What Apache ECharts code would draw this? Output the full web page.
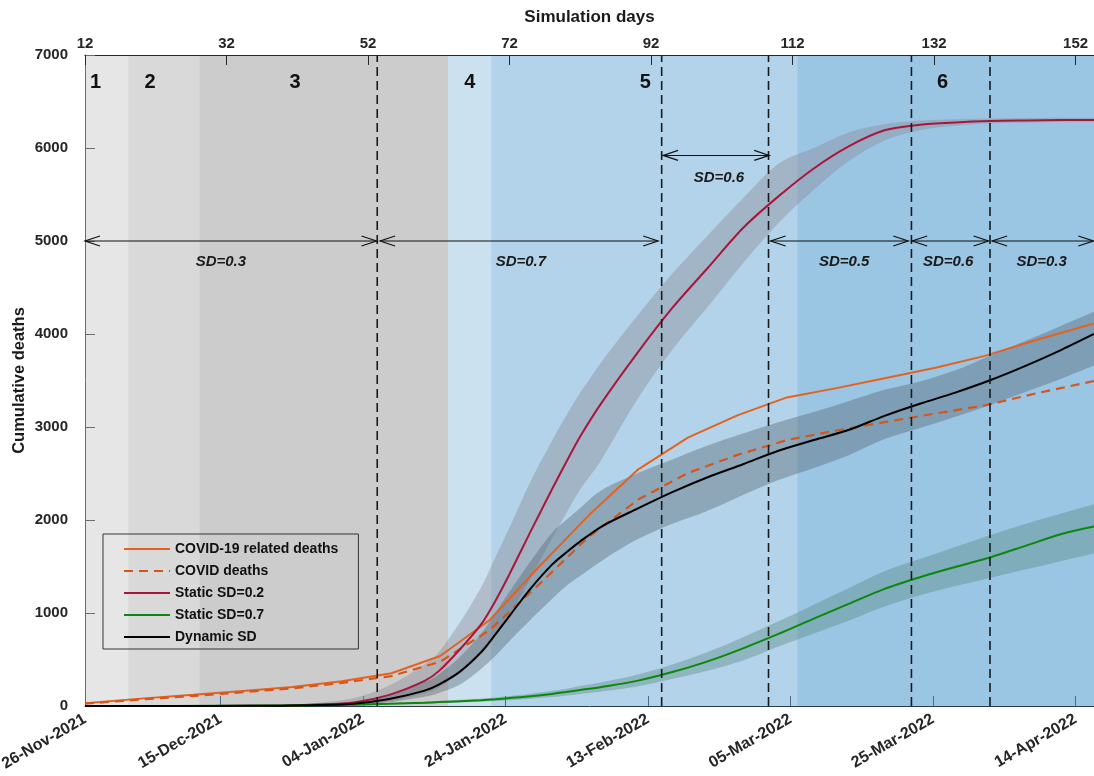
<!DOCTYPE html>
<html><head><meta charset="utf-8">
<script src="https://cdn.jsdelivr.net/npm/echarts@6/dist/echarts.min.js"></script>
<style>html,body{margin:0;padding:0;background:#fff}#c{width:1094px;height:776px}</style>
</head><body><div id="c"></div><script>
// ---------------- data ----------------
const simTicks = [12, 32, 52, 72, 92, 112, 132, 152];
// calendar axis: days elapsed since 26-Nov-2021
const dateTickOffsets = [0, 19, 39, 59, 79, 99, 119, 139];
const dateLabels = ['26-Nov-2021', '15-Dec-2021', '04-Jan-2022', '24-Jan-2022', '13-Feb-2022', '05-Mar-2022', '25-Mar-2022', '14-Apr-2022'];

const phaseStart = [12, 18.1, 28.2, 63.3, 69.4, 112.7];
const phaseEnd   = [18.1, 28.2, 63.3, 69.4, 112.7, 154.6];
const phaseNames = ['1', '2', '3', '4', '5', '6'];
const phaseLabelDay = [13.5, 21.2, 41.7, 66.4, 91.2, 133.2];
const phaseLabelLevel = [6700, 6700, 6700, 6700, 6700, 6700];

const changeDays = [53.3, 93.5, 108.6, 128.8, 139.9];

const sdNames     = ['SD=0.3', 'SD=0.7', 'SD=0.6', 'SD=0.5', 'SD=0.6', 'SD=0.3'];
const arrowFrom   = [12.0, 53.7, 93.7, 108.9, 128.9, 140.2];
const arrowTo     = [53.2, 93.0, 108.7, 128.35, 139.7, 154.5];
const arrowLevel  = [5000, 5000, 5920, 5000, 5000, 5000];
const sdLabelDay  = [31.2, 73.6, 101.6, 119.3, 134.0, 147.2];
const sdLabelLevel= [4780, 4780, 5680, 4780, 4780, 4780];

// weekly reported data
const obsDays       = [12, 20.3, 27.3, 34.3, 41.3, 48.3, 55.3, 62.2, 69.2, 76.2, 83.2, 90.2, 97.2, 104.2, 111.2, 118.2, 125.2, 132.2, 139.2, 146.2, 154.6];
const relatedDeaths = [30, 82, 120, 162, 205, 265, 352, 538, 925, 1500, 2050, 2545, 2885, 3125, 3318, 3418, 3528, 3638, 3765, 3930, 4112];
const covidDeaths   = [25, 72, 108, 148, 190, 248, 322, 476, 817, 1310, 1820, 2220, 2505, 2700, 2860, 2962, 3055, 3145, 3232, 3358, 3495];

// simulations
const simDays   = [12, 20, 30, 40, 45, 50, 55, 60, 62, 65, 68, 70, 72, 75, 78, 80, 82, 85, 90, 95, 100, 105, 110, 115, 120, 125, 130, 135, 140, 145, 150, 154.6];
const static02  = [0, 0, 1, 6, 15, 38, 120, 270, 375, 610, 880, 1130, 1420, 1880, 2330, 2620, 2900, 3260, 3790, 4280, 4710, 5140, 5480, 5780, 6020, 6190, 6250, 6275, 6290, 6296, 6300, 6302];
const static02Lo= [0, 0, 0, 2, 5, 15, 50, 140, 200, 360, 560, 750, 970, 1380, 1800, 2070, 2330, 2650, 3290, 3830, 4290, 4760, 5190, 5550, 5860, 6080, 6190, 6240, 6265, 6275, 6280, 6282];
const static02Hi= [0, 0, 5, 15, 35, 85, 220, 450, 580, 900, 1280, 1600, 1920, 2420, 2850, 3120, 3370, 3700, 4190, 4650, 5060, 5460, 5830, 6000, 6170, 6255, 6295, 6310, 6318, 6322, 6325, 6326];

const static07  = [0, 0, 2, 5, 8, 14, 24, 36, 42, 52, 62, 72, 85, 105, 130, 150, 172, 205, 270, 365, 480, 620, 775, 940, 1100, 1260, 1385, 1495, 1600, 1725, 1850, 1930];
const static07Lo= [0, 0, 1, 3, 5, 9, 16, 26, 30, 38, 46, 53, 62, 78, 96, 110, 128, 155, 210, 290, 380, 490, 640, 780, 920, 1070, 1190, 1290, 1380, 1470, 1560, 1640];
const static07Hi= [0, 0, 3, 8, 12, 20, 32, 48, 55, 67, 80, 92, 108, 133, 163, 185, 215, 255, 335, 445, 580, 740, 910, 1090, 1270, 1450, 1580, 1710, 1840, 1960, 2070, 2170];

const dynamic   = [0, 0, 1, 4, 10, 25, 75, 165, 230, 370, 580, 770, 970, 1265, 1520, 1650, 1770, 1930, 2120, 2300, 2460, 2600, 2745, 2860, 2970, 3120, 3250, 3370, 3505, 3660, 3830, 4000];
const dynamicLo = [0, 0, 0, 1, 3, 12, 40, 100, 140, 230, 400, 540, 700, 930, 1150, 1290, 1400, 1560, 1790, 1960, 2100, 2270, 2430, 2560, 2700, 2870, 2990, 3110, 3240, 3380, 3520, 3660];
const dynamicHi = [0, 0, 3, 12, 28, 45, 120, 260, 340, 530, 780, 1000, 1230, 1560, 1860, 2000, 2130, 2320, 2500, 2650, 2800, 2930, 3050, 3160, 3280, 3400, 3490, 3610, 3770, 3930, 4090, 4240];

// ---------------- styling ----------------
const FONT = "'Liberation Sans', Arial, Helvetica, sans-serif";
const TXT = '#262626';
const phaseColors = ['#e6e6e6', '#d9d9d9', '#cccccc', '#cce1f0', '#b2d3e9', '#9ac5e3'];
const X_MIN = 12, X_MAX = 154.6, Y_MIN = 0, Y_MAX = 7000;
const D_MIN = 0, D_MAX = 141.6;

const pairs = (xs, ys) => xs.map((x, i) => [x, ys[i]]);

// Catmull-Rom -> cubic bezier segments (after the first point)
function smoothSegs(pts) {
  let d = '';
  const t = 1 / 6;
  for (let i = 0; i < pts.length - 1; i++) {
    const p0 = pts[i - 1] || pts[i], p1 = pts[i], p2 = pts[i + 1], p3 = pts[i + 2] || p2;
    const c1x = p1[0] + (p2[0] - p0[0]) * t, c1y = p1[1] + (p2[1] - p0[1]) * t;
    const c2x = p2[0] - (p3[0] - p1[0]) * t, c2y = p2[1] - (p3[1] - p1[1]) * t;
    d += ' C' + c1x.toFixed(2) + ',' + c1y.toFixed(2) + ' ' + c2x.toFixed(2) + ',' + c2y.toFixed(2) + ' ' + p2[0].toFixed(2) + ',' + p2[1].toFixed(2);
  }
  return d;
}

function bandSeries(id, lo, hi, color) {
  return {
    type: 'custom', name: id, silent: true, z: 1, clip: true, xAxisIndex: 0,
    data: [[simDays[0], lo[0]]],
    renderItem: (params, api) => {
      const up = simDays.map((d, i) => api.coord([d, hi[i]]));
      const dn = simDays.map((d, i) => api.coord([d, lo[i]])).reverse();
      const path = 'M' + up[0][0] + ',' + up[0][1] + smoothSegs(up) +
                   ' L' + dn[0][0] + ',' + dn[0][1] + smoothSegs(dn) + ' Z';
      return { type: 'path', shape: { pathData: path }, style: { fill: color, stroke: null } };
    }
  };
}

const chart = echarts.init(document.getElementById('c'), null, { renderer: 'canvas' });

const option = {
  animation: false,
  backgroundColor: '#ffffff',
  grid: { left: 85, right: 0, top: 55, bottom: 70, containLabel: false, outerBoundsMode: 'none' },
  xAxis: [
    { type: 'value', position: 'top', min: X_MIN, max: X_MAX,
      name: 'Simulation days', nameLocation: 'middle', nameGap: 29, nameMoveOverlap: false,
      nameTextStyle: { color: '#1a1a1a', fontFamily: FONT, fontWeight: 'bold', fontSize: 17 },
      axisLine: { show: true, onZero: false, lineStyle: { color: '#262626', width: 1.2 } },
      axisTick: { show: true, inside: true, length: 10, customValues: simTicks, lineStyle: { color: '#262626' } },
      axisLabel: { show: true, customValues: simTicks, margin: 4, color: TXT,
        fontFamily: FONT, fontWeight: 'bold', fontSize: 15, formatter: v => String(v) },
      splitLine: { show: false } },
    { type: 'value', position: 'bottom', min: D_MIN, max: D_MAX,
      axisLine: { show: true, onZero: false, lineStyle: { color: '#2a3b4c', width: 1 } },
      axisTick: { show: true, inside: true, length: 10, customValues: dateTickOffsets, lineStyle: { color: '#4a6a85' } },
      axisLabel: { show: true, customValues: dateTickOffsets, rotate: 30, margin: 12, color: TXT,
        fontFamily: FONT, fontWeight: 'bold', fontSize: 16,
        formatter: v => { const i = dateTickOffsets.indexOf(v); return i >= 0 ? dateLabels[i] : ''; } },
      splitLine: { show: false } }
  ],
  yAxis: { type: 'value', min: Y_MIN, max: Y_MAX, interval: 1000,
    name: 'Cumulative deaths', nameLocation: 'middle', nameGap: 57, nameMoveOverlap: false,
    nameTextStyle: { color: '#1a1a1a', fontFamily: FONT, fontWeight: 'bold', fontSize: 16.5 },
    axisLine: { show: true, onZero: false, lineStyle: { color: '#6b6b6b', width: 1 } },
    axisTick: { show: true, inside: true, length: 10, lineStyle: { color: '#6b6b6b' } },
    axisLabel: { margin: 17, color: TXT, fontFamily: FONT, fontWeight: 'bold', fontSize: 15,
      padding: [5, 0, 0, 0], formatter: v => String(v) },
    splitLine: { show: false } },
  legend: {
    data: ['COVID-19 related deaths', 'COVID deaths', 'Static SD=0.2', 'Static SD=0.7', 'Dynamic SD'],
    orient: 'vertical', left: 103, top: 534, itemWidth: 46, itemHeight: 14, itemGap: 8,
    padding: [8, 20, 5, 20], borderColor: '#333333', borderWidth: 1, backgroundColor: 'transparent',
    selectedMode: false,
    itemStyle: { opacity: 0, borderWidth: 0 },
    textStyle: { color: '#111', fontFamily: FONT, fontWeight: 'bold', fontSize: 14 }
  },
  series: [
    { type: 'custom', name: 'phases', silent: true, z: 0, clip: true, xAxisIndex: 0,
      data: phaseStart.map((s, i) => [s, phaseEnd[i], i]),
      encode: { x: [0, 1] },
      renderItem: (params, api) => {
        const a = api.coord([api.value(0), Y_MAX]);
        const b = api.coord([api.value(1), Y_MIN]);
        return { type: 'rect', shape: { x: a[0], y: a[1], width: b[0] - a[0] + 0.5, height: b[1] - a[1] },
          style: { fill: phaseColors[api.value(2)] } };
      } },
    bandSeries('redBand', static02Lo, static02Hi, 'rgba(140,140,152,0.42)'),
    bandSeries('blkBand', dynamicLo, dynamicHi, 'rgba(75,88,100,0.36)'),
    bandSeries('grnBand', static07Lo, static07Hi, 'rgba(80,130,120,0.36)'),
    { type: 'line', name: 'COVID-19 related deaths', xAxisIndex: 0, data: pairs(obsDays, relatedDeaths), symbol: 'none',
      lineStyle: { color: '#e4621f', width: 2 }, itemStyle: { color: '#e4621f' }, z: 3 },
    { type: 'line', name: 'COVID deaths', xAxisIndex: 0, data: pairs(obsDays, covidDeaths), symbol: 'none',
      lineStyle: { color: '#d5561c', width: 2.2, type: [9, 6] }, itemStyle: { color: '#d5561c' }, z: 3 },
    { type: 'line', name: 'Static SD=0.2', xAxisIndex: 0, data: pairs(simDays, static02), symbol: 'none', smooth: 0.3,
      lineStyle: { color: '#a8163a', width: 2 }, itemStyle: { color: '#a8163a' }, z: 3 },
    { type: 'line', name: 'Static SD=0.7', xAxisIndex: 0, data: pairs(simDays, static07), symbol: 'none', smooth: 0.3,
      lineStyle: { color: '#0b870b', width: 2 }, itemStyle: { color: '#0b870b' }, z: 3 },
    { type: 'line', name: 'Dynamic SD', xAxisIndex: 0, data: pairs(simDays, dynamic), symbol: 'none', smooth: 0.3,
      lineStyle: { color: '#000000', width: 2 }, itemStyle: { color: '#000000' }, z: 3 },
    { type: 'custom', name: 'changes', silent: true, z: 5, clip: true, xAxisIndex: 0,
      data: changeDays.map(d => [d, 0]),
      renderItem: (params, api) => {
        const a = api.coord([api.value(0), Y_MIN]);
        const b = api.coord([api.value(0), Y_MAX]);
        return { type: 'line', shape: { x1: a[0], y1: a[1], x2: b[0], y2: b[1] },
          style: { stroke: '#1a1a1a', lineWidth: 1.6, lineDash: [9, 5] } };
      } },
    { type: 'custom', name: 'arrows', silent: true, z: 6, clip: false, xAxisIndex: 0,
      data: arrowFrom.map((s, i) => [s, arrowTo[i], arrowLevel[i]]),
      encode: { x: [0, 1], y: 2 },
      renderItem: (params, api) => {
        const a = api.coord([api.value(0), api.value(2)]);
        const b = api.coord([api.value(1), api.value(2)]);
        const y = a[1], hl = 15, hh = 5;
        return { type: 'group', children: [
          { type: 'line', shape: { x1: a[0], y1: y, x2: b[0], y2: y }, style: { stroke: '#111', lineWidth: 1.1 } },
          { type: 'polyline', shape: { points: [[a[0] + hl, y - hh], [a[0], y], [a[0] + hl, y + hh]] }, style: { stroke: '#111', lineWidth: 1.2, fill: null } },
          { type: 'polyline', shape: { points: [[b[0] - hl, y - hh], [b[0], y], [b[0] - hl, y + hh]] }, style: { stroke: '#111', lineWidth: 1.2, fill: null } }
        ] };
      } },
    { type: 'custom', name: 'sdLabels', silent: true, z: 6, clip: false, xAxisIndex: 0,
      data: sdLabelDay.map((d, i) => [d, sdLabelLevel[i], i]),
      renderItem: (params, api) => {
        const p = api.coord([api.value(0), api.value(1)]);
        return { type: 'text', x: p[0], y: p[1],
          style: { text: sdNames[api.value(2)], fill: '#1a1a1a', font: 'italic bold 15px ' + FONT,
            align: 'center', verticalAlign: 'middle', textAlign: 'center', textVerticalAlign: 'middle' } };
      } },
    { type: 'custom', name: 'phaseLabels', silent: true, z: 6, clip: false, xAxisIndex: 0,
      data: phaseLabelDay.map((d, i) => [d, phaseLabelLevel[i], i]),
      renderItem: (params, api) => {
        const p = api.coord([api.value(0), api.value(1)]);
        return { type: 'text', x: p[0], y: p[1],
          style: { text: phaseNames[api.value(2)], fill: '#111', font: 'bold 20px ' + FONT,
            align: 'center', verticalAlign: 'middle', textAlign: 'center', textVerticalAlign: 'middle' } };
      } }
  ]
};
chart.setOption(option);
</script></body></html>
